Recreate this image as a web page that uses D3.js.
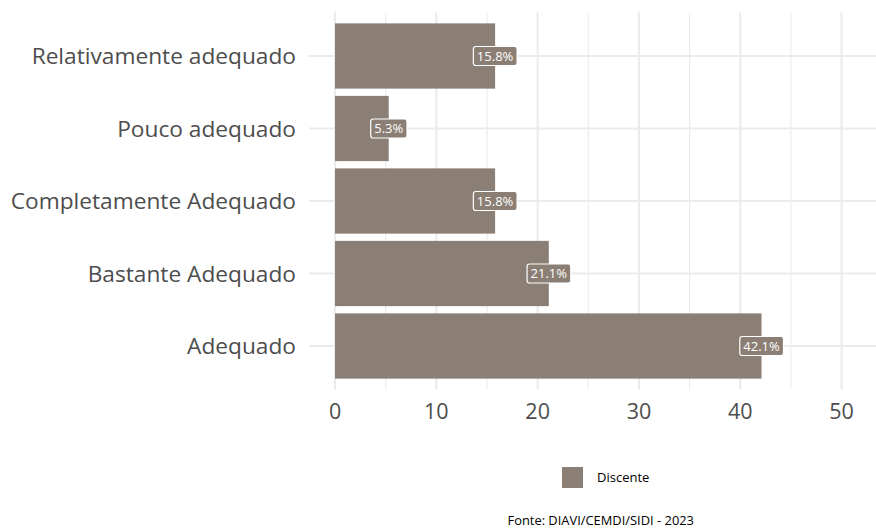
<!DOCTYPE html>
<html><head><meta charset="utf-8">
<script src="https://cdn.jsdelivr.net/npm/d3@7"></script>
<style>body{margin:0;background:#fff}svg{display:block}text{font-family:"Open Sans",sans-serif}</style>
</head><body>
<script>
const categories = ["Relativamente adequado","Pouco adequado","Completamente Adequado","Bastante Adequado","Adequado"];
const values = [15.8, 5.3, 15.8, 21.1, 42.1];
const labels = ["15.8%","5.3%","15.8%","21.1%","42.1%"];
const xTicks = [0,10,20,30,40,50];
const xMinor = [5,15,25,35,45];
const seriesName = "Discente";
const caption = "Fonte: DIAVI/CEMDI/SIDI - 2023";

const W=876,H=528, barColor="#8b7e74", grid="#ebebeb";
const svg=d3.select("body").append("svg").attr("width",W).attr("height",H);
const x=d3.scaleLinear().domain([-2.57,53.4]).range([309,876]);
const y=d3.scaleBand().domain(categories).range([12.5,389.5]).paddingInner(0.1).paddingOuter(0.15);
const g=svg.append("g");
// grid
g.selectAll(".vmin").data(xMinor).join("line").attr("x1",d=>x(d)).attr("x2",d=>x(d)).attr("y1",12.5).attr("y2",389.5).attr("stroke",grid).attr("stroke-width",1.1);
g.selectAll(".vmaj").data(xTicks).join("line").attr("x1",d=>x(d)).attr("x2",d=>x(d)).attr("y1",12.5).attr("y2",389.5).attr("stroke",grid).attr("stroke-width",2.1);
g.selectAll(".hmaj").data(categories).join("line").attr("x1",309).attr("x2",876).attr("y1",d=>y(d)+y.bandwidth()/2).attr("y2",d=>y(d)+y.bandwidth()/2).attr("stroke",grid).attr("stroke-width",2.1);
// bars
g.selectAll(".bar").data(categories).join("rect").attr("x",x(0)).attr("y",d=>y(d)).attr("width",(d,i)=>x(values[i])-x(0)).attr("height",y.bandwidth()).attr("fill",barColor);
// labels
const lab=g.selectAll(".lab").data(categories).join("g").attr("transform",(d,i)=>`translate(${x(values[i])},${y(d)+y.bandwidth()/2})`);
lab.append("text").attr("text-anchor","middle").attr("dy","0.36em").attr("font-size",13).attr("fill","#fff").text((d,i)=>labels[i]);
lab.each(function(){const t=d3.select(this).select("text").node().getBBox();d3.select(this).insert("rect","text").attr("x",t.x-3.5).attr("y",-9.5).attr("width",t.width+7).attr("height",19).attr("rx",2.5).attr("fill",barColor).attr("stroke","#fff").attr("stroke-width",1.2);});
// axes text
g.selectAll(".yl").data(categories).join("text").attr("x",296).attr("y",d=>y(d)+y.bandwidth()/2).attr("dy","0.36em").attr("text-anchor","end").attr("font-size",22.7).attr("fill","#4d4d4d").text(d=>d);
g.selectAll(".xl").data(xTicks).join("text").attr("x",d=>x(d)).attr("y",419).attr("text-anchor","middle").attr("font-size",21.5).attr("fill","#4d4d4d").text(d=>d);
// legend
svg.append("rect").attr("x",562).attr("y",467).attr("width",21).attr("height",21).attr("fill",barColor);
svg.append("text").attr("x",597).attr("y",482).attr("font-size",13).attr("fill","#000").text(seriesName);
svg.append("text").attr("x",694).attr("y",525).attr("text-anchor","end").attr("font-size",12.9).attr("fill","#000").text(caption);
</script>
</body></html>
